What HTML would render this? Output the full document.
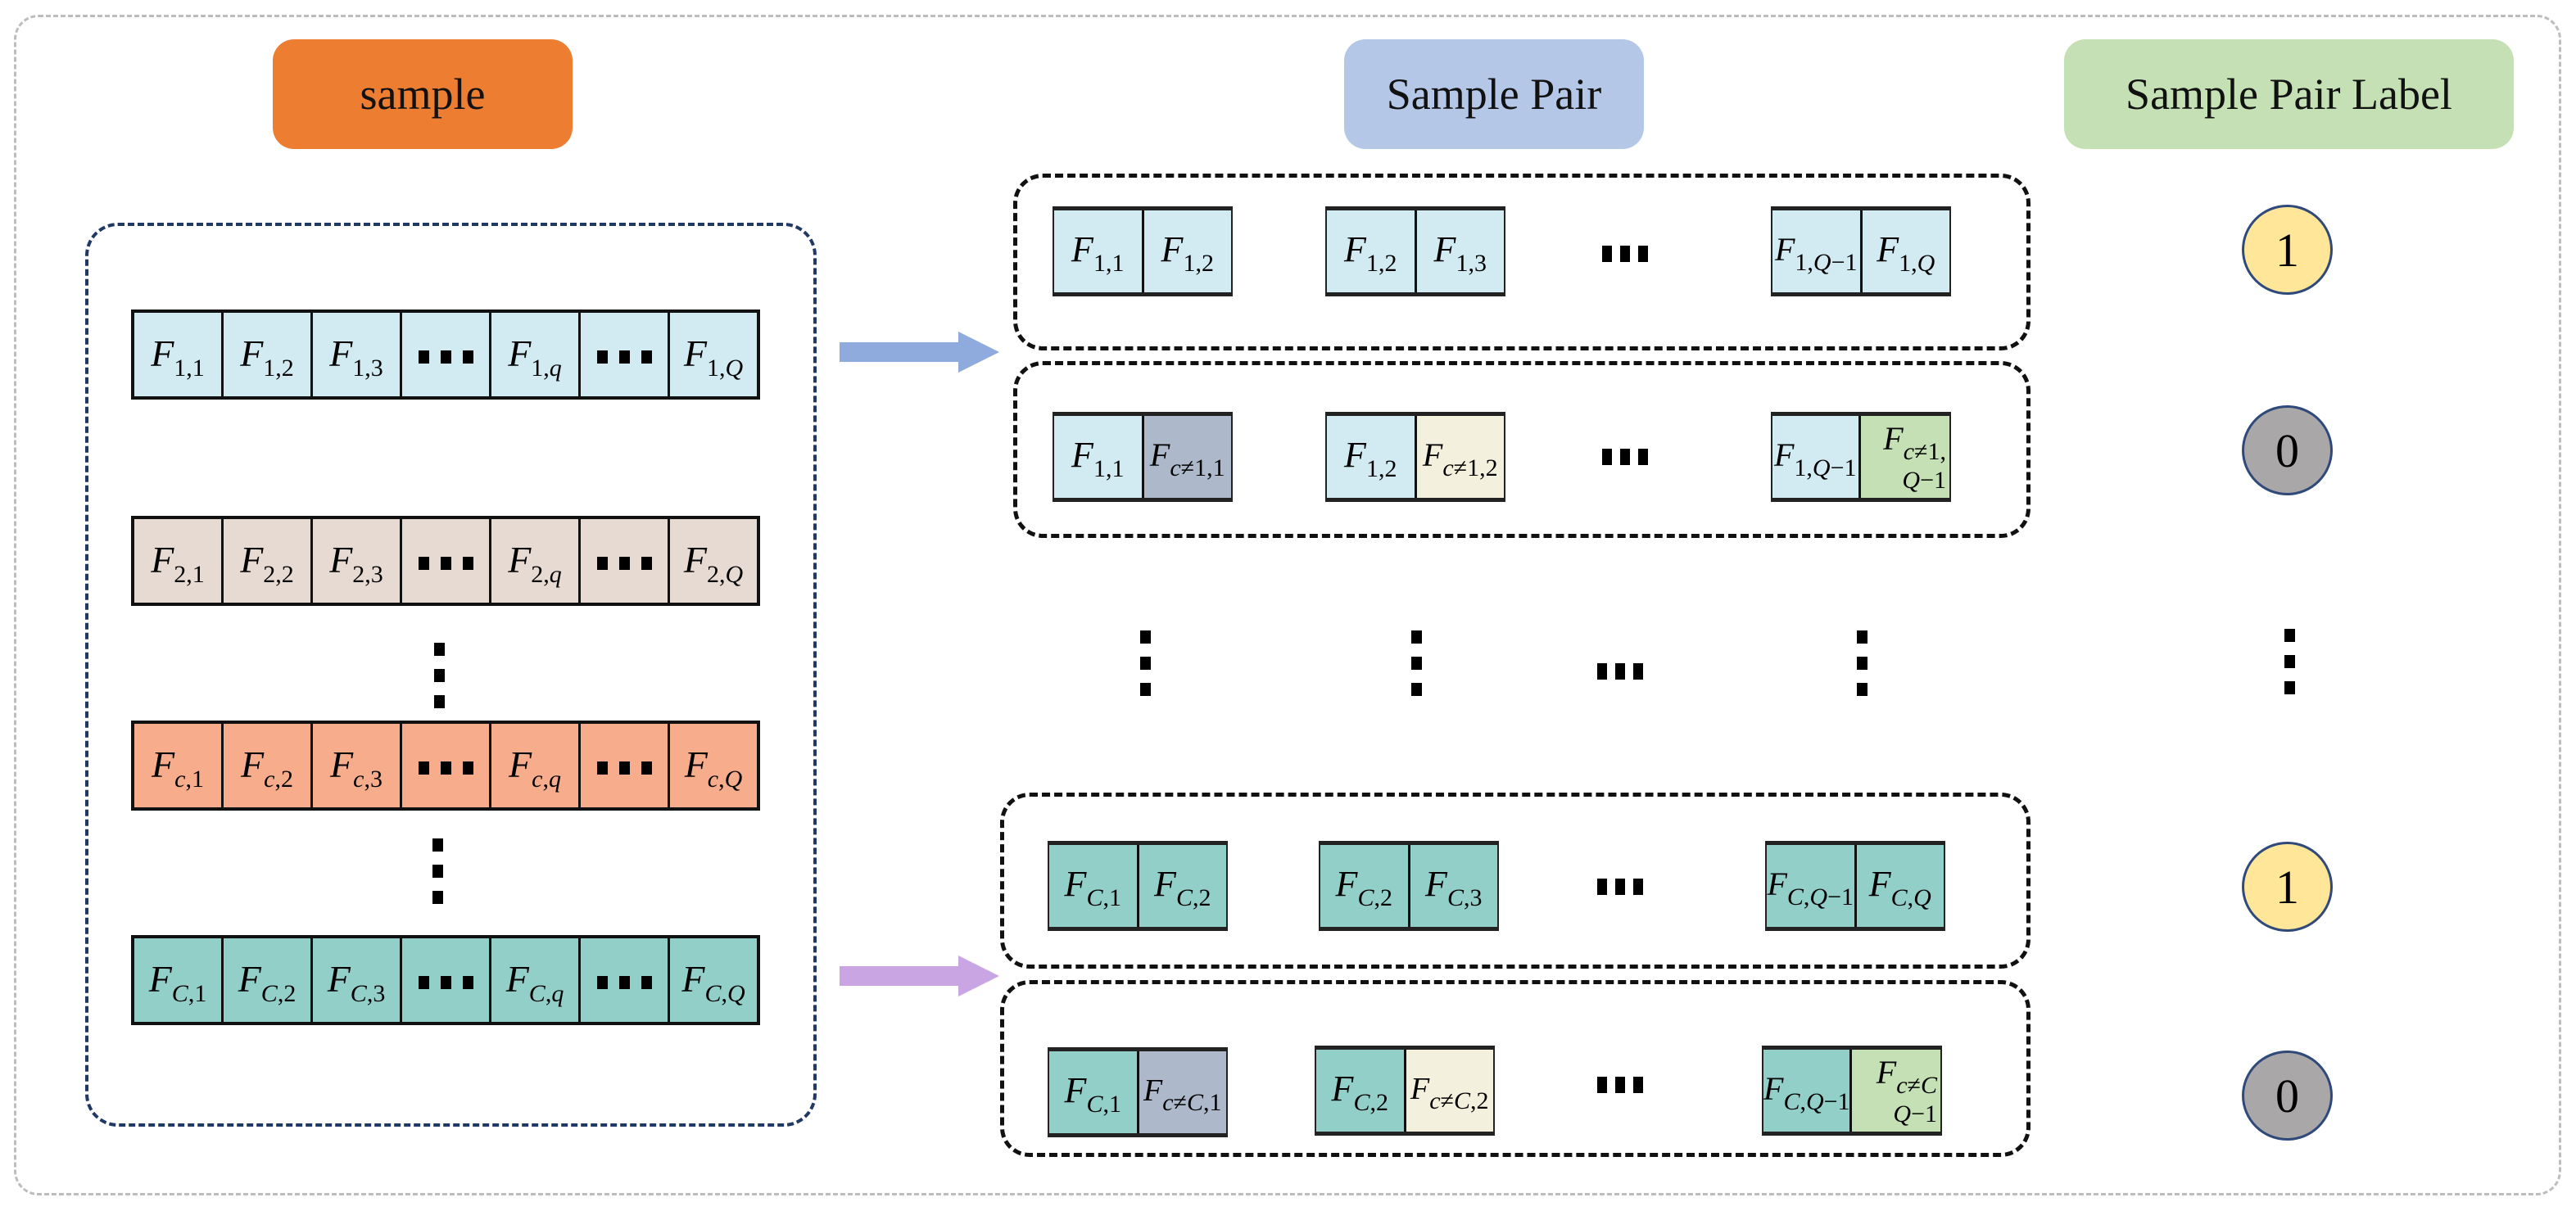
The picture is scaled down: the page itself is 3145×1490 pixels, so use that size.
<!DOCTYPE html>
<html><head><meta charset="utf-8"><style>
body{margin:0;width:3145px;height:1490px;background:#fff;position:relative;overflow:hidden;font-family:"Liberation Serif",serif}
.a{position:absolute;box-sizing:border-box}
.btn{border-radius:26px;display:flex;align-items:center;justify-content:center;font-size:54px;color:#111}
.row{display:flex;border:4px solid #111;height:110px;width:768px;left:160px}
.row>div{flex:1;border-right:3px solid #111;text-align:center;line-height:100px;font-style:italic;font-size:46px;white-space:nowrap}
.row>div:last-child{border-right:none}
sub{font-size:30px;font-style:normal;vertical-align:-12px;line-height:0}
sub i{font-style:italic}
.dots{display:inline-flex;gap:14px;font-style:normal;vertical-align:middle}
.dots i{width:13px;height:16px;background:#000;display:block}
.pair{display:flex;border-top:5px solid #222;border-bottom:5px solid #222;border-left:2px solid #222;border-right:2px solid #222;height:110px;width:220px}
.pair>div{flex:1;text-align:center;line-height:96px;font-style:italic;font-size:44px;white-space:nowrap;overflow:hidden}
.pair>div:first-child{border-right:3px solid #111}
.pair>div.two{display:flex;flex-direction:column;align-items:flex-end;justify-content:center;line-height:1.1;padding-right:4px}
.two .q{font-size:30px;font-style:normal;line-height:1;margin-top:14px}
.pbox{border:5px dashed #111;border-radius:36px;width:1242px;height:216px}
.hd{display:flex;gap:10px}.hd i{width:12px;height:20px;background:#000;display:block}
.vd{display:flex;flex-direction:column;gap:16px}.vd i{width:13px;height:16px;background:#000;display:block}
.c{border-radius:50%;width:111px;height:110px;border:3px solid #2f4a7a;display:flex;align-items:center;justify-content:center;font-size:58px;left:2737px}
</style></head><body>
<div class="a" style="left:17px;top:18px;width:3110px;height:1442px;border:3px dashed #bdbdbd;border-radius:30px"></div>
<div class="a btn" style="left:333px;top:48px;width:366px;height:134px;background:#ed7d31">sample</div>
<div class="a btn" style="left:1641px;top:48px;width:366px;height:134px;background:#b4c7e7">Sample Pair</div>
<div class="a btn" style="left:2520px;top:48px;width:549px;height:134px;background:#c5e0b4">Sample Pair Label</div>

<div class="a" style="left:104px;top:272px;width:893px;height:1104px;border:4px dashed #203864;border-radius:40px"></div>

<div class="a row" style="top:378px;background:#d2eaf1"><div>F<sub>1,1</sub></div><div>F<sub>1,2</sub></div><div>F<sub>1,3</sub></div><div><span class="dots"><i></i><i></i><i></i></span></div><div>F<sub>1,<i>q</i></sub></div><div><span class="dots"><i></i><i></i><i></i></span></div><div>F<sub>1,<i>Q</i></sub></div></div>
<div class="a row" style="top:630px;background:#e7dad2"><div>F<sub>2,1</sub></div><div>F<sub>2,2</sub></div><div>F<sub>2,3</sub></div><div><span class="dots"><i></i><i></i><i></i></span></div><div>F<sub>2,<i>q</i></sub></div><div><span class="dots"><i></i><i></i><i></i></span></div><div>F<sub>2,<i>Q</i></sub></div></div>
<div class="a row" style="top:880px;background:#f7ad8b"><div>F<sub><i>c</i>,1</sub></div><div>F<sub><i>c</i>,2</sub></div><div>F<sub><i>c</i>,3</sub></div><div><span class="dots"><i></i><i></i><i></i></span></div><div>F<sub><i>c</i>,<i>q</i></sub></div><div><span class="dots"><i></i><i></i><i></i></span></div><div>F<sub><i>c</i>,<i>Q</i></sub></div></div>
<div class="a row" style="top:1142px;background:#93cfc9"><div>F<sub><i>C</i>,1</sub></div><div>F<sub><i>C</i>,2</sub></div><div>F<sub><i>C</i>,3</sub></div><div><span class="dots"><i></i><i></i><i></i></span></div><div>F<sub><i>C</i>,<i>q</i></sub></div><div><span class="dots"><i></i><i></i><i></i></span></div><div>F<sub><i>C</i>,<i>Q</i></sub></div></div>
<div class="a vd" style="left:530px;top:785px"><i></i><i></i><i></i></div>
<div class="a vd" style="left:528px;top:1024px"><i></i><i></i><i></i></div>

<svg class="a" style="left:1020px;top:400px" width="210" height="60"><polygon points="5,18 150,18 150,5 200,30 150,55 150,42 5,42" fill="#8faadc"/></svg>
<svg class="a" style="left:1020px;top:1162px" width="210" height="60"><polygon points="5,18 150,18 150,5 200,30 150,55 150,42 5,42" fill="#c9a5e3"/></svg>

<div class="a pbox" style="left:1237px;top:212px"></div>
<div class="a pbox" style="left:1237px;top:441px"></div>
<div class="a pbox" style="left:1221px;top:968px;width:1258px;height:215px"></div>
<div class="a pbox" style="left:1221px;top:1197px;width:1258px;height:216px"></div>

<div class="a pair" style="left:1285px;top:252px;background:#d2eaf1"><div>F<sub>1,1</sub></div><div>F<sub>1,2</sub></div></div>
<div class="a pair" style="left:1618px;top:252px;background:#d2eaf1"><div>F<sub>1,2</sub></div><div>F<sub>1,3</sub></div></div>
<div class="a pair" style="left:2162px;top:252px;background:#d2eaf1"><div style="font-size:40px">F<sub>1,<i>Q</i>−1</sub></div><div>F<sub>1,<i>Q</i></sub></div></div>
<div class="a hd" style="left:1956px;top:300px"><i></i><i></i><i></i></div>

<div class="a pair" style="left:1285px;top:503px"><div style="background:#d2eaf1">F<sub>1,1</sub></div><div style="background:#adb9ca;font-size:40px">F<sub><i>c</i>≠1,1</sub></div></div>
<div class="a pair" style="left:1618px;top:503px"><div style="background:#d2eaf1">F<sub>1,2</sub></div><div style="background:#f3f1dd;font-size:40px">F<sub><i>c</i>≠1,2</sub></div></div>
<div class="a pair" style="left:2162px;top:503px"><div style="background:#d2eaf1;font-size:40px">F<sub>1,<i>Q</i>−1</sub></div><div class="two" style="background:#c5e0b4;font-size:40px"><span>F<sub><i>c</i>≠1,</sub></span><span class="q"><i>Q</i>−1</span></div></div>
<div class="a hd" style="left:1956px;top:548px"><i></i><i></i><i></i></div>

<div class="a vd" style="left:1392px;top:770px"><i></i><i></i><i></i></div>
<div class="a vd" style="left:1723px;top:770px"><i></i><i></i><i></i></div>
<div class="a hd" style="left:1950px;top:810px"><i></i><i></i><i></i></div>
<div class="a vd" style="left:2267px;top:770px"><i></i><i></i><i></i></div>
<div class="a vd" style="left:2789px;top:768px"><i></i><i></i><i></i></div>

<div class="a pair" style="left:1279px;top:1027px;background:#93cfc9"><div>F<sub><i>C</i>,1</sub></div><div>F<sub><i>C</i>,2</sub></div></div>
<div class="a pair" style="left:1610px;top:1027px;background:#93cfc9"><div>F<sub><i>C</i>,2</sub></div><div>F<sub><i>C</i>,3</sub></div></div>
<div class="a pair" style="left:2155px;top:1027px;background:#93cfc9"><div style="font-size:40px">F<sub><i>C</i>,<i>Q</i>−1</sub></div><div>F<sub><i>C</i>,<i>Q</i></sub></div></div>
<div class="a hd" style="left:1950px;top:1073px"><i></i><i></i><i></i></div>

<div class="a pair" style="left:1279px;top:1279px"><div style="background:#93cfc9">F<sub><i>C</i>,1</sub></div><div style="background:#adb9ca;font-size:38px">F<sub><i>c</i>≠<i>C</i>,1</sub></div></div>
<div class="a pair" style="left:1605px;top:1277px"><div style="background:#93cfc9">F<sub><i>C</i>,2</sub></div><div style="background:#f3f1dd;font-size:38px">F<sub><i>c</i>≠<i>C</i>,2</sub></div></div>
<div class="a pair" style="left:2151px;top:1277px"><div style="background:#93cfc9;font-size:40px">F<sub><i>C</i>,<i>Q</i>−1</sub></div><div class="two" style="background:#c5e0b4;font-size:40px"><span>F<sub><i>c</i>≠<i>C</i></sub></span><span class="q"><i>Q</i>−1</span></div></div>
<div class="a hd" style="left:1950px;top:1315px"><i></i><i></i><i></i></div>

<div class="a c" style="top:250px;background:#ffe699">1</div>
<div class="a c" style="top:495px;background:#aaa7a8">0</div>
<div class="a c" style="top:1028px;background:#ffe699">1</div>
<div class="a c" style="top:1283px;background:#aaa7a8">0</div>
</body></html>
